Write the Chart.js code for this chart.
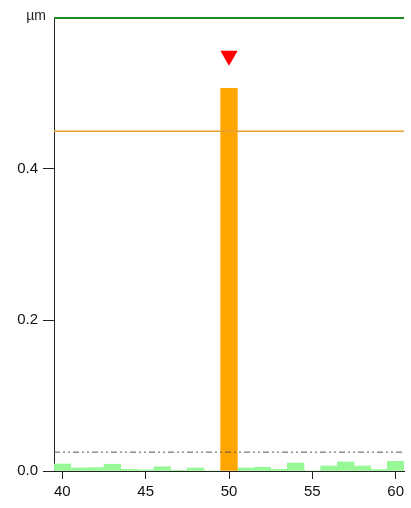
<!DOCTYPE html>
<html>
<head>
<meta charset="utf-8">
<script src="https://cdn.jsdelivr.net/npm/chart.js@4"></script>
<style>
  html, body { margin: 0; padding: 0; background: #fff; }
  #wrap { width: 411px; height: 508px; }
</style>
</head>
<body>
<div id="wrap"><canvas id="myChart" width="411" height="508"></canvas></div>
<script>
// positions along x (µm slices) and the values
const positions = [40, 41, 42, 43, 44, 45, 46, 47, 48, 49, 51, 52, 53, 54, 55, 56, 57, 58, 59, 60];
const background = [0.0093, 0.004, 0.0045, 0.009, 0.0023, 0.0015, 0.0057, 0.001, 0.004, 0,
  0.004, 0.005, 0.0023, 0.0106, 0, 0.0066, 0.012, 0.0066, 0.002, 0.0128];
const peakPos = 50;
const peakValue = 0.507;
const markerValue = 0.55;
const threshold = 0.45;
const noiseLevel = 0.025;
const upperLimit = 0.6;
const xTicks = [40, 45, 50, 55, 60];
const yTicks = [0, 0.2, 0.4];
const xMin = 39.5, xMax = 60.5;

const hline = (v) => [{ x: xMin, y: v }, { x: xMax, y: v }];

const unitLabel = {
  id: "unitLabel",
  afterDraw(chart) {
    const c = chart.ctx;
    c.save();
    c.font = "14px 'Liberation Sans', Arial, sans-serif";
    c.fillStyle = "#222";
    c.textAlign = "right";
    c.textBaseline = "middle";
    c.fillText("µm", 46, 16);
    c.restore();
  },
};

const ctx = document.getElementById("myChart").getContext("2d");
const myChart = new Chart(ctx, {
  type: "bar",
  data: {
    datasets: [
      {
        type: "line",
        data: hline(upperLimit),
        borderColor: "#1f8a1f",
        borderWidth: 2,
        pointRadius: 0,
        clip: false,
      },
      {
        type: "line",
        data: hline(threshold),
        borderColor: "#e8a030",
        borderWidth: 1.5,
        pointRadius: 0,
      },
      {
        type: "line",
        data: hline(noiseLevel),
        borderColor: "#555",
        borderWidth: 1,
        borderDash: [6, 3, 2, 3, 2, 3],
        pointRadius: 0,
      },
      {
        type: "scatter",
        data: [{ x: peakPos, y: markerValue }],
        pointStyle: "triangle",
        rotation: 180,
        pointRadius: 10,
        backgroundColor: "#ff0000",
        borderColor: "#ff0000",
        borderWidth: 0,
      },
      {
        data: [{ x: peakPos, y: peakValue }],
        backgroundColor: "#ffa500",
        barPercentage: 1,
        categoryPercentage: 1,
        grouped: false,
      },
      {
        data: positions.map((p, i) => ({ x: p, y: background[i] })),
        backgroundColor: "#98f898",
        barPercentage: 1,
        categoryPercentage: 1,
        grouped: false,
      },
    ],
  },
  options: {
    responsive: false,
    animation: false,
    layout: { autoPadding: false, padding: { top: 18, right: 7, left: 0, bottom: 0 } },
    plugins: { legend: { display: false }, tooltip: { enabled: false } },
    scales: {
      x: {
        type: "linear",
        min: xMin,
        max: xMax,
        offset: false,
        afterBuildTicks: (s) => { s.ticks = xTicks.map((v) => ({ value: v })); },
        afterFit: (s) => { s.height = 37; },
        grid: { offset: false, drawOnChartArea: false, drawTicks: true, tickLength: 8, color: "#222" },
        border: { display: true, color: "#222", width: 1 },
        ticks: {
          padding: 4,
          color: "#111",
          font: { family: "'Liberation Sans', Arial, sans-serif", size: 15 },
        },
      },
      y: {
        min: 0,
        max: upperLimit,
        afterBuildTicks: (s) => { s.ticks = yTicks.map((v) => ({ value: v })); },
        afterFit: (s) => { s.width = 54; },
        grid: { drawOnChartArea: false, drawTicks: true, tickLength: 11, color: "#222" },
        border: { display: true, color: "#222", width: 1 },
        ticks: {
          padding: 5,
          color: "#111",
          callback: (v) => v.toFixed(1),
          font: { family: "'Liberation Sans', Arial, sans-serif", size: 15 },
        },
      },
    },
  },
  plugins: [unitLabel],
});
</script>
</body>
</html>
